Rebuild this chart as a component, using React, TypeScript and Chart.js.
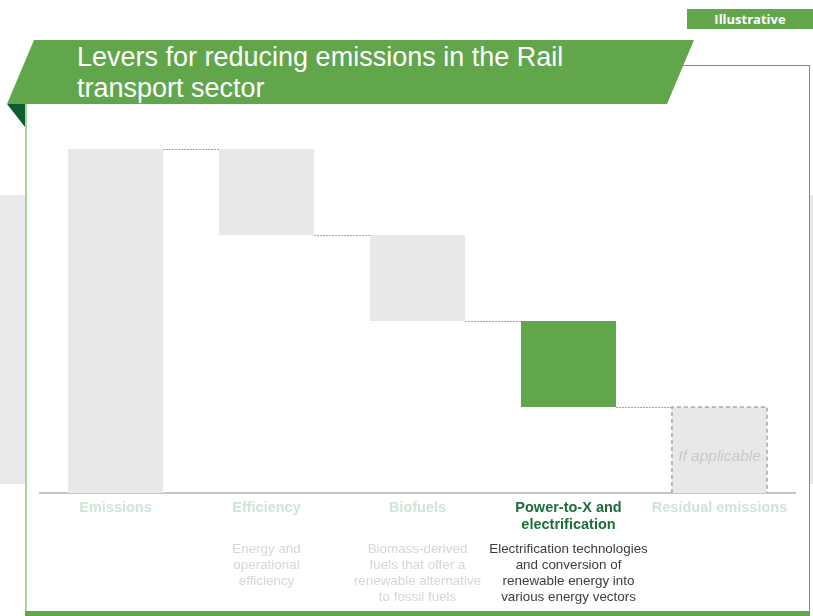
import React, { useEffect, useRef } from "react";
import { Chart, registerables } from "chart.js";

Chart.register(...registerables);

// ---------- data ----------
const categories: (string | string[])[] = [
  "Emissions",
  "Efficiency",
  "Biofuels",
  ["Power-to-X and", "electrification"],
  "Residual emissions",
];
const barLow = [0, 75, 50, 25, 0];
const barHigh = [100, 100, 75, 50, 25];
const descriptions: string[][] = [
  [],
  ["Energy and", "operational", "efficiency"],
  ["Biomass-derived", "fuels that offer a", "renewable alternative", "to fossil fuels"],
  ["Electrification technologies", "and conversion of", "renewable energy into", "various energy vectors"],
  [],
];
const activeIndex = 3;
const optionalIndex = 4;
const optionalNote = "If applicable";
const titleLines = ["Levers for reducing emissions in the Rail", "transport sector"];
const badgeText = "Illustrative";

// ---------- styles ----------
const GREEN = "#62a64c";
const DARK_GREEN = "#0d5e2f";
const GREY_BAR = "#e8e8e6";
const LABEL_LIGHT = "#cfe5d6";
const LABEL_ACTIVE = "#1b6e37";
const DESC_LIGHT = "#d6d6d6";
const DESC_ACTIVE = "#3c3c3c";
const FONT = "'Liberation Sans', Arial, sans-serif";

const overlayPlugin = {
  id: "waterfallOverlay",
  afterDatasetsDraw(chart: any) {
    const ctx = chart.ctx;
    const meta = chart.getDatasetMeta(0);
    const ys = chart.scales.y;
    const xs = chart.scales.x;
    const els = meta.data;
    ctx.save();
    // connectors
    ctx.strokeStyle = "#a3a3a3";
    ctx.lineWidth = 1;
    ctx.setLineDash([2, 1]);
    for (let i = 0; i < els.length - 1; i++) {
      const a = els[i];
      const b = els[i + 1];
      const y = Math.round(ys.getPixelForValue(barHigh[i + 1])) + 0.5;
      ctx.beginPath();
      ctx.moveTo(a.x + a.width / 2, y);
      ctx.lineTo(b.x - b.width / 2, y);
      ctx.stroke();
    }
    // dashed border on optional bar
    const r = els[optionalIndex];
    const top = Math.min(r.y, r.base);
    const bottom = Math.max(r.y, r.base);
    const left = r.x - r.width / 2;
    const right = r.x + r.width / 2;
    ctx.strokeStyle = "#a8a8a8";
    ctx.lineWidth = 1.5;
    ctx.setLineDash([4, 3]);
    ctx.beginPath();
    ctx.moveTo(left, bottom);
    ctx.lineTo(left, top);
    ctx.lineTo(right, top);
    ctx.lineTo(right, bottom);
    ctx.stroke();
    ctx.setLineDash([]);
    ctx.fillStyle = "#c9c9c9";
    ctx.font = `italic 15.5px ${FONT}`;
    ctx.textAlign = "center";
    ctx.textBaseline = "middle";
    ctx.fillText(optionalNote, r.x, (top + bottom) / 2 + 7);

    // descriptions
    ctx.font = `13.4px ${FONT}`;
    const startY = chart.chartArea.bottom + 56;
    descriptions.forEach((lines, i) => {
      const x = xs.getPixelForValue(i);
      ctx.fillStyle = i === activeIndex ? DESC_ACTIVE : DESC_LIGHT;
      lines.forEach((ln, k) => {
        ctx.fillText(ln, x, startY + k * 16);
      });
    });
    ctx.restore();
  },
};

export default function App() {
  const ref = useRef<HTMLCanvasElement | null>(null);
  useEffect(() => {
    if (!ref.current) return;
    const chart = new Chart(ref.current, {
      type: "bar",
      data: {
        labels: categories as any,
        datasets: [
          {
            data: barLow.map((lo, i) => [lo, barHigh[i]]) as any,
            backgroundColor: categories.map((_, i) => (i === activeIndex ? GREEN : GREY_BAR)),
            borderWidth: 0,
            categoryPercentage: 1,
            barPercentage: 0.63,
          },
        ],
      },
      options: {
        animation: false,
        responsive: false,
        devicePixelRatio: 1,
        layout: { padding: { left: 40, right: 18, top: 149, bottom: 0 } },
        plugins: { legend: { display: false }, tooltip: { enabled: false }, title: { display: false } },
        scales: {
          y: { display: false, min: 0, max: 100 },
          x: {
            grid: { display: false, drawTicks: false },
            border: { display: true, color: "#c6c6c6", width: 2 },
            afterFit: (scale: any) => {
              scale.height = 123;
            },
            ticks: {
              autoSkip: false,
              maxRotation: 0,
              minRotation: 0,
              padding: 7,
              color: (c: any) => (c.index === activeIndex ? LABEL_ACTIVE : LABEL_LIGHT),
              font: { family: FONT, size: 14.5, weight: "bold", lineHeight: 1.15 },
            },
          },
        },
      },
      plugins: [overlayPlugin],
    });
    return () => chart.destroy();
  }, []);

  return (
    <div style={{ position: "absolute", left: 0, top: 0, width: 813, height: 616, overflow: "hidden", background: "#fff" }}>
      {/* background grey bands */}
      <div style={{ position: "absolute", left: 0, top: 195, width: 25, height: 289, background: "#e9e9e9" }} />
      <div style={{ position: "absolute", left: 810, top: 195, width: 3, height: 289, background: "#e9e9e9" }} />
      {/* frame */}
      <div style={{ position: "absolute", left: 683, top: 65, width: 127, height: 1, background: GREEN }} />
      <div style={{ position: "absolute", left: 809, top: 65, width: 1, height: 547, background: GREEN }} />
      <div style={{ position: "absolute", left: 25, top: 104, width: 2, height: 508, background: "#a9d39a" }} />
      <div style={{ position: "absolute", left: 25, top: 611, width: 785, height: 5, background: GREEN }} />
      {/* banner */}
      <svg width={813} height={140} style={{ position: "absolute", left: 0, top: 0 }}>
        <polygon points="34,40 694,40 667,104 7,104" fill={GREEN} />
        <polygon points="7,104 25,104 25,127" fill={DARK_GREEN} />
      </svg>
      <div
        style={{
          position: "absolute",
          left: 77,
          top: 42,
          color: "#fff",
          fontFamily: FONT,
          fontSize: 27,
          lineHeight: "31px",
          whiteSpace: "nowrap",
        }}
      >
        {titleLines.map((t, i) => (
          <div key={i}>{t}</div>
        ))}
      </div>
      {/* badge */}
      <div
        style={{
          position: "absolute",
          left: 687,
          top: 9,
          width: 126,
          height: 20,
          background: GREEN,
          color: "#fff",
          fontFamily: "'Open Sans', sans-serif",
          fontWeight: 700,
          fontSize: 13,
          lineHeight: "20px",
          textAlign: "center",
        }}
      >
        {badgeText}
      </div>
      <canvas ref={ref} width={813} height={616} style={{ position: "absolute", left: 0, top: 0, width: 813, height: 616 }} />
    </div>
  );
}
